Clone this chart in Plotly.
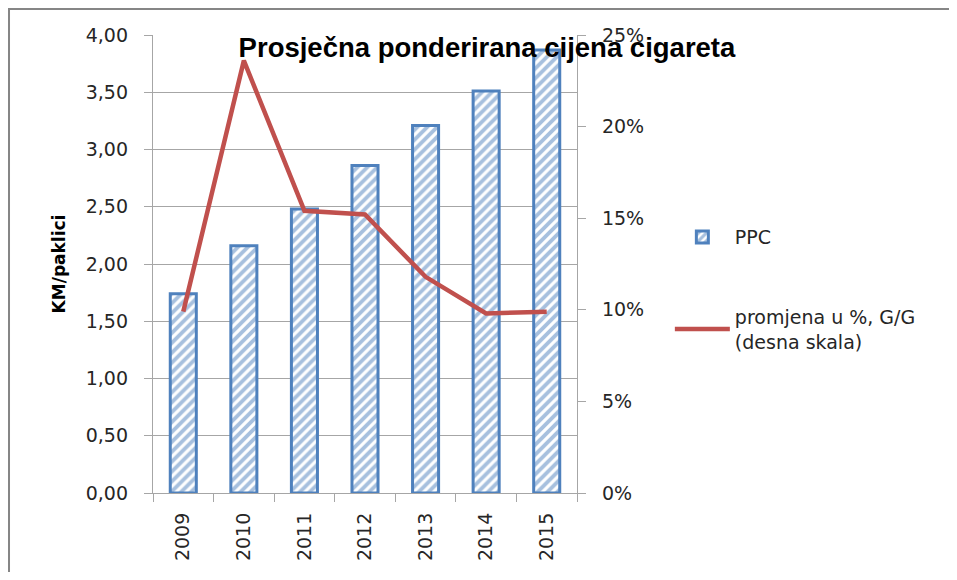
import plotly.graph_objects as go

years = ["2009", "2010", "2011", "2012", "2013", "2014", "2015"]
ppc = [1.74, 2.16, 2.48, 2.86, 3.21, 3.51, 3.87]
promjena = [0.099, 0.236, 0.154, 0.152, 0.118, 0.098, 0.099]

BLUE = "#4F81BD"
RED = "#C0504D"
GRID = "#A6A6A6"
TICK_FONT = {"family": "DejaVu Sans", "size": 19, "color": "#262626"}

fig = go.Figure()
fig.add_trace(go.Bar(
    x=years, y=ppc, name="PPC", width=0.43,
    marker={"color": "white", "line": {"color": BLUE, "width": 3},
            "pattern": {"shape": "/", "fgcolor": BLUE, "bgcolor": "white", "size": 7, "solidity": 0.55}},
    legendgroup="a",
))
fig.add_trace(go.Scatter(
    x=years, y=promjena, name="promjena u %, G/G<br>(desna skala)", yaxis="y2",
    mode="lines", line={"color": RED, "width": 4.5}, legendgroup="b",
))

# page body has an 8px margin, so the figure is sized to fit inside it
fig.update_layout(
    width=941, height=564,
    paper_bgcolor="white", plot_bgcolor="white",
    separators=", ",
    margin={"l": 145, "r": 372, "t": 27, "b": 79, "autoexpand": False},
    title={"text": "<b>Prosječna ponderirana cijena cigareta</b>", "x": 0.509, "xanchor": "center",
           "y": 0.931, "yanchor": "middle",
           "font": {"family": "Liberation Sans", "size": 27.5, "color": "black"}},
    xaxis={"type": "category", "tickangle": -90, "tickfont": TICK_FONT, "showgrid": False,
           "showline": True, "linecolor": GRID, "linewidth": 1.3, "automargin": False,
           "ticks": "outside", "tickson": "boundaries", "ticklen": 8, "tickcolor": GRID,
           "ticklabelstandoff": 11},
    yaxis={"range": [0, 4], "dtick": 0.5, "tickformat": ".2f", "tickfont": TICK_FONT,
           "showgrid": True, "gridcolor": GRID, "gridwidth": 1.3, "automargin": False,
           "showline": True, "linecolor": GRID, "linewidth": 1.3,
           "ticks": "outside", "ticklen": 8, "tickcolor": GRID, "zeroline": False,
           "ticklabelstandoff": 12,
           "title": {"text": "<b>KM/paklici</b>", "font": {"family": "DejaVu Sans", "size": 17, "color": "black"},
                     "standoff": 15}},
    yaxis2={"range": [0, 0.25], "dtick": 0.05, "tickformat": ".0%", "tickfont": TICK_FONT,
            "overlaying": "y", "side": "right", "showgrid": False, "zeroline": False,
            "showline": True, "linecolor": GRID, "linewidth": 1.3, "automargin": False,
            "ticks": "outside", "ticklen": 8, "tickcolor": GRID, "ticklabelstandoff": 12},
    legend={"x": 1.219, "y": 0.6, "xanchor": "left", "yanchor": "top",
            "font": {"family": "DejaVu Sans", "size": 19, "color": "#262626"},
            "tracegroupgap": 52, "itemwidth": 55, "bgcolor": "rgba(0,0,0,0)"},
    shapes=[
        {"type": "line", "xref": "paper", "yref": "paper", "x0": -0.3396, "x1": -0.3396, "y0": -0.2, "y1": 1.06,
         "line": {"color": "#868686", "width": 2}},
        {"type": "line", "xref": "paper", "yref": "paper", "x0": -0.3396, "x1": 1.9, "y0": 1.0568, "y1": 1.0568,
         "line": {"color": "#868686", "width": 2}},
    ],
)

fig.write_html("out.html")
